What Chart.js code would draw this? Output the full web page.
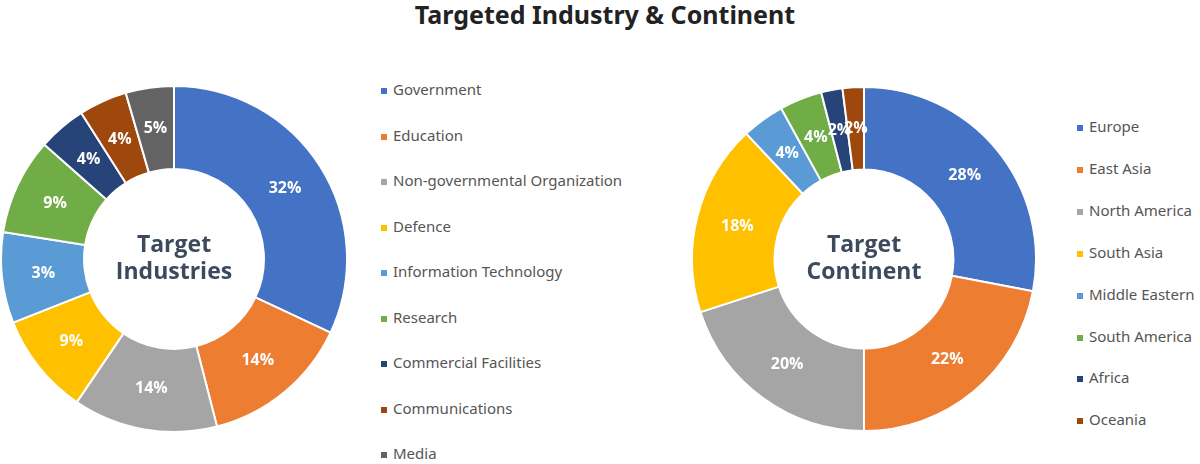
<!DOCTYPE html>
<html>
<head>
<meta charset="utf-8">
<title>Targeted Industry &amp; Continent</title>
<script src="https://cdn.jsdelivr.net/npm/chart.js@4.4.1/dist/chart.umd.min.js"></script>
<style>
  body { margin: 0; width: 1200px; height: 464px; background: #fff; position: relative; overflow: hidden; font-family: "Noto Sans", sans-serif; }
  h1 { position: absolute; left: 5px; top: -1px; width: 1200px; margin: 0; text-align: center; font-size: 25px; line-height: 30px; font-weight: bold; color: #222; }
  canvas { position: absolute; top: 84px; }
  #industry { left: 0; }
  #continent { left: 690px; }
  .legend { position: absolute; top: 0; margin: 0; padding: 0; list-style: none; font-size: 15px; color: #555; }
  .legend li { position: absolute; left: 0; white-space: nowrap; height: 20px; line-height: 20px; }
  .legend span { display: inline-block; width: 6px; height: 6px; margin-right: 6px; vertical-align: 1px; }
  #industryLegend { left: 381px; }
  #continentLegend { left: 1077px; }
</style>
</head>
<body>
<h1>Targeted Industry &amp; Continent</h1>
<canvas id="industry" width="348" height="350"></canvas>
<canvas id="continent" width="348" height="350"></canvas>
<ul class="legend" id="industryLegend"></ul>
<ul class="legend" id="continentLegend"></ul>
<script>
const industries = ['Government', 'Education', 'Non-governmental Organization', 'Defence',
  'Information Technology', 'Research', 'Commercial Facilities', 'Communications', 'Media'];
const industryShares = [32, 14, 13.5, 9.5, 8.5, 9, 4.5, 4.5, 4.5];
const industryText = ['32%', '14%', '14%', '9%', '3%', '9%', '4%', '4%', '5%'];
const industryColors = ['#4472C4', '#ED7D31', '#A5A5A5', '#FFC000', '#5B9BD5', '#70AD47', '#264478', '#9E480E', '#636363'];

// continents
const continents = ['Europe', 'East Asia', 'North America', 'South Asia', 'Middle Eastern',
  'South America', 'Africa', 'Oceania'];
const continentShares = [28, 22, 20, 18, 4, 4, 2, 2];
const continentText = ['28%', '22%', '20%', '18%', '4%', '4%', '2%', '2%'];
const continentColors = ['#4472C4', '#ED7D31', '#A5A5A5', '#FFC000', '#5B9BD5', '#70AD47', '#264478', '#9E480E'];

// writes the % on each slice and the two lines in the hole
const ringText = {
  id: 'ringText',
  afterDatasetsDraw(chart, args, opts) {
    const ctx = chart.ctx;
    const arcs = chart.getDatasetMeta(0).data;
    ctx.save();
    ctx.textAlign = 'center';
    ctx.textBaseline = 'middle';
    ctx.fillStyle = '#fff';
    ctx.font = 'bold 16px "Open Sans", sans-serif';
    arcs.forEach((arc, i) => {
      const p = arc.tooltipPosition();
      ctx.fillText(opts.texts[i], p.x, p.y);
    });
    const c = arcs[0];
    ctx.fillStyle = '#3D4A5E';
    ctx.font = 'bold 23px "Open Sans", sans-serif';
    ctx.fillText(opts.centre[0], c.x, c.y - 14);
    ctx.fillText(opts.centre[1], c.x, c.y + 13);
    ctx.restore();
  }
};

function donut(id, labels, shares, colors, texts, centre, radius) {
  return new Chart(document.getElementById(id), {
    type: 'doughnut',
    data: {
      labels: labels,
      datasets: [{
        data: shares,
        backgroundColor: colors,
        borderColor: '#fff',
        borderWidth: 2
      }]
    },
    options: {
      responsive: false,
      animation: false,
      radius: radius,
      cutout: '52%',
      plugins: {
        legend: { display: false },
        tooltip: { enabled: false },
        ringText: { texts: texts, centre: centre }
      }
    },
    plugins: [ringText]
  });
}

function legend(id, labels, colors, firstY, step) {
  const ul = document.getElementById(id);
  labels.forEach((name, i) => {
    const li = document.createElement('li');
    li.style.top = (firstY + i * step - 10) + 'px';
    const box = document.createElement('span');
    box.style.background = colors[i];
    li.appendChild(box);
    li.appendChild(document.createTextNode(name));
    ul.appendChild(li);
  });
}

donut('industry', industries, industryShares, industryColors, industryText, ['Target', 'Industries'], 173);
donut('continent', continents, continentShares, continentColors, continentText, ['Target', 'Continent'], 172);
legend('industryLegend', industries, industryColors, 89, 45.5);
legend('continentLegend', continents, continentColors, 126, 41.9);
</script>
</body>
</html>
